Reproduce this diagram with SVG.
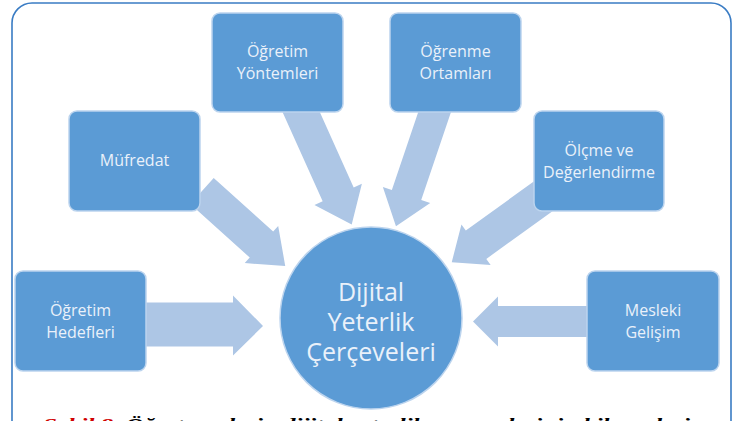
<svg xmlns="http://www.w3.org/2000/svg" width="736" height="421" viewBox="0 0 736 421">
<style>
.box{fill:#5b9bd5;stroke:#bcd4ee;stroke-width:1.5}
.arr{fill:#adc6e5}
.lbl{font-family:"Open Sans","DejaVu Sans",sans-serif;font-size:16px;fill:#eaf1fa;text-anchor:middle}
.big{font-family:"Open Sans","DejaVu Sans",sans-serif;font-size:25px;fill:#eaf1fa;text-anchor:middle}
.cap{font-family:"Liberation Serif","Times New Roman",serif;font-size:17px;font-weight:bold;font-style:italic}
</style>
<rect width="736" height="421" fill="#ffffff"/>
<rect x="12" y="3" width="719" height="460" rx="20" ry="20" fill="none" stroke="#3a7cc4" stroke-width="1.6"/>
<g id="connectors">
<path class="arr" transform="translate(140,324.5)" d="M0,-22 L93,-22 L93,-29 L123,1.5 L93,31 L93,22 L0,22 Z"/>
<path class="arr" transform="translate(592,321.5) rotate(180)" d="M0,-15.5 L94,-15.5 L94,-25 L119,0 L94,25 L94,15.5 L0,15.5 Z"/>
<path class="arr" transform="translate(202,191) rotate(42)" d="M0,-17.5 L80,-17.5 L80,-25 L112,0 L80,25 L80,17.5 L0,17.5 Z"/>
<path class="arr" transform="translate(545,195) rotate(144.2)" d="M0,-17.5 L85,-17.5 L85,-25 L115,0 L85,25 L85,17.5 L0,17.5 Z"/>
<path class="arr" transform="translate(298,105) rotate(65.8)" d="M0,-17 L98,-17 L98,-26 L131,0 L98,26 L98,17 L0,17 Z"/>
<path class="arr" transform="translate(437,105) rotate(108.7)" d="M0,-15.5 L95,-15.5 L95,-25 L128,0 L95,25 L95,15.5 L0,15.5 Z"/>
</g>
<g id="node-yontemleri">
<rect class="box" x="212" y="13" width="131" height="99" rx="8"/>
<text class="lbl" x="277.5" y="57">Öğretim</text>
<text class="lbl" x="277.5" y="79">Yöntemleri</text>
</g>
<g id="node-ortamlari">
<rect class="box" x="390" y="13" width="131" height="99" rx="8"/>
<text class="lbl" x="455.5" y="57">Öğrenme</text>
<text class="lbl" x="455.5" y="79">Ortamları</text>
</g>
<g id="node-mufredat">
<rect class="box" x="69" y="111" width="131" height="100" rx="8"/>
<text class="lbl" x="134.5" y="166">Müfredat</text>
</g>
<g id="node-olcme">
<rect class="box" x="534" y="111" width="130" height="100" rx="8"/>
<text class="lbl" x="599" y="156">Ölçme ve</text>
<text class="lbl" x="599" y="178">Değerlendirme</text>
</g>
<g id="node-hedefleri">
<rect class="box" x="15" y="271" width="131" height="100" rx="8"/>
<text class="lbl" x="80.5" y="316">Öğretim</text>
<text class="lbl" x="80.5" y="338">Hedefleri</text>
</g>
<g id="node-mesleki">
<rect class="box" x="587" y="271" width="132" height="100" rx="8"/>
<text class="lbl" x="653" y="316">Mesleki</text>
<text class="lbl" x="653" y="338">Gelişim</text>
</g>
<g id="node-center">
<circle cx="371" cy="318" r="91" fill="#5b9bd5" stroke="#bcd4ee" stroke-width="1.5"/>
<text class="big" x="371" y="301">Dijital</text>
<text class="big" x="371" y="331">Yeterlik</text>
<text class="big" x="371" y="361">Çerçeveleri</text>
</g>
<text class="cap" x="43" y="430" textLength="647" lengthAdjust="spacingAndGlyphs"><tspan fill="#d00000">Şekil 8.</tspan><tspan fill="#000000"> Öğretmenlerin dijital yeterlik çerçevelerinin bileşenleri</tspan></text>
</svg>
